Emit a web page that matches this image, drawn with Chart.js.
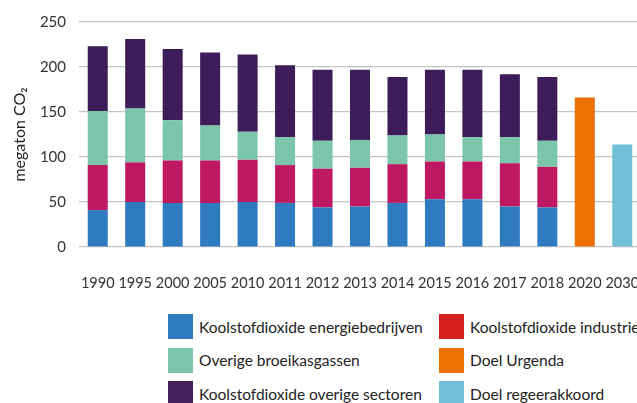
<!DOCTYPE html>
<html><head><meta charset="utf-8">
<script src="https://cdn.jsdelivr.net/npm/chart.js@4/dist/chart.umd.min.js"></script>
<style>
html,body{margin:0;padding:0;background:#fff;overflow:hidden;width:637px;height:403px;}
#c{position:absolute;left:0;top:0;}
#legend{position:absolute;left:168px;top:314px;font-family:Lato,'Open Sans',sans-serif;font-size:15.5px;color:#222;}
.item{position:absolute;display:flex;align-items:center;white-space:nowrap;}
.sw{width:25px;height:25px;margin-right:6px;flex:none;}
</style></head><body>
<canvas id="c" width="641" height="300" style="width:641px;height:300px"></canvas>
<div id="legend"></div>
<script>
const categories = ['1990','1995','2000','2005','2010','2011','2012','2013','2014','2015','2016','2017','2018','2020','2030'];
const energiebedrijven = [41,50,49,49,50,49,44,45,49,53,53,45,44,null,null];
const industrie = [50,44,47,47,47,42,43,43,43,42,42,48,45,null,null];
const overigeBroeikasgassen = [60,60,45,39,31,31,31,31,32,30,27,29,29,null,null];
const overigeSectoren = [72,77,79,81,86,80,79,78,65,72,75,70,71,null,null];
const doelUrgenda = [null,null,null,null,null,null,null,null,null,null,null,null,null,166,null];
const doelRegeerakkoord = [null,null,null,null,null,null,null,null,null,null,null,null,null,null,114];
const yTicks = [0,50,100,150,200,250];

const datasets = [
  {label:'Koolstofdioxide energiebedrijven', data:energiebedrijven, backgroundColor:'#2F7BBF', legendColor:'#2F7BBF'},
  {label:'Koolstofdioxide industrie', data:industrie, backgroundColor:'#BE1862', legendColor:'#D41F1E'},
  {label:'Overige broeikasgassen', data:overigeBroeikasgassen, backgroundColor:'#7BC6AA', legendColor:'#7BC6AA'},
  {label:'Koolstofdioxide overige sectoren', data:overigeSectoren, backgroundColor:'#3D1C5A', legendColor:'#44215C'},
  {label:'Doel Urgenda', data:doelUrgenda, backgroundColor:'#EC7004', legendColor:'#EC7004'},
  {label:'Doel regeerakkoord', data:doelRegeerakkoord, backgroundColor:'#6FBFD6', legendColor:'#6FBFD6'}
];

const chart = new Chart(document.getElementById('c'), {
  type:'bar',
  data:{labels:categories, datasets:datasets.map(d=>({label:d.label,data:d.data,backgroundColor:d.backgroundColor,borderWidth:0,barPercentage:0.534,categoryPercentage:1}))},
  options:{
    responsive:false, animation:false,
    layout:{padding:{top:21,right:0,left:0,bottom:0}},
    plugins:{legend:{display:false}, tooltip:{enabled:false}},
    scales:{
      x:{stacked:true, grid:{display:false}, border:{display:false},
         ticks:{color:'#333', padding:20, font:{family:'Lato, sans-serif', size:14.5}, maxRotation:0, minRotation:0, autoSkip:false},
         afterFit(s){s.height=53; s.paddingRight=0; s.paddingLeft=0;}},
      y:{stacked:true, min:0, max:250, afterBuildTicks(s){s.ticks=yTicks.map(v=>({value:v}));},
         grid:{color:'#c4c4c4', lineWidth:1.2, drawTicks:false}, border:{display:false},
         ticks:{color:'#333', padding:13, font:{family:'Lato, sans-serif', size:15}},
         title:{display:true, text:'megaton CO₂', color:'#222', font:{family:'Lato, sans-serif', size:16}, padding:{top:10,bottom:4}},
         afterFit(s){s.width=79;}}
    }
  }
});

const legendOrder = [[0,0,0],[2,0,1],[3,0,2],[1,1,0],[4,1,1],[5,1,2]];
const lg = document.getElementById('legend');
legendOrder.forEach(([i,col,row])=>{
  const d = datasets[i];
  const el = document.createElement('div');
  el.className='item';
  el.style.left=(col*271)+'px';
  el.style.top=(row*33.5)+'px';
  el.innerHTML='<span class="sw" style="background:'+d.legendColor+'"></span><span>'+d.label+'</span>';
  lg.appendChild(el);
});
</script>
</body></html>
